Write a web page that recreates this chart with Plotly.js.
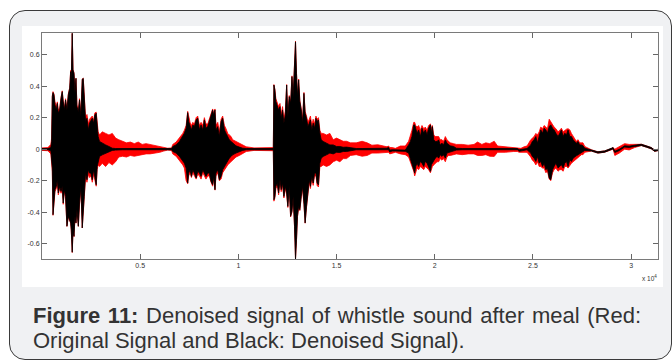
<!DOCTYPE html>
<html>
<head>
<meta charset="utf-8">
<script src="https://cdn.plot.ly/plotly-3.0.1.min.js"></script>
<style>
  html, body { margin:0; padding:0; background:#ffffff; width:672px; height:361px; overflow:hidden; }
  #box { position:absolute; left:9px; top:10px; width:661px; height:348px; border:1.5px solid #3a3a3a;
         border-radius:16px; background:#f0f1f3; }
  #panel { position:absolute; left:22px; top:26px; width:641px; height:261px; background:#ffffff; }
  #chart { position:absolute; left:0; top:0; width:672px; height:361px; }
  .cap { position:absolute; left:33px; width:608px; font-family:"Liberation Sans", Arial, sans-serif;
         font-size:22px; color:#333333; white-space:nowrap; line-height:25px; }
  #cap1 { top:303px; text-align:justify; text-align-last:justify; }
  #cap2 { top:328px; }
</style>
</head>
<body>
<div id="box"></div>
<div id="panel"></div>
<div class="cap" id="cap1"><b>Figure 11:</b> Denoised signal of whistle sound after meal (Red:</div>
<div class="cap" id="cap2">Original Signal and Black: Denoised Signal).</div>
<div id="chart"></div>
<script>
// time axis (x 10^4 samples)
var t = [
0,0.03,0.045,
0.049,0.0525,0.056,0.061,0.066,0.073,0.078,0.083,0.09,0.097,
0.103,0.108,0.114,0.12,0.127,0.134,0.141,0.146,0.149,0.154,
0.158,0.163,0.168,0.173,0.178,0.185,0.191,0.198,0.205,0.21,
0.215,0.222,0.229,0.236,0.242,0.249,0.256,0.263,0.269,0.276,
0.281,0.286,0.293,0.307,0.324,0.341,0.358,0.375,0.391,
0.41,0.43,0.45,0.47,0.49,0.51,0.53,0.55,0.58,0.6,0.62,0.64,0.66,
0.666,0.683,0.7,0.717,0.725,0.734,0.742,0.747,0.754,0.761,
0.768,0.776,0.785,0.793,0.802,0.81,0.819,0.827,0.835,0.844,
0.852,0.861,0.869,0.874,0.881,0.886,0.895,0.903,0.912,0.92,
0.929,0.937,0.946,0.954,0.963,0.971,0.988,1.005,1.022,1.04,
1.08,1.12,1.178,
1.181,1.186,1.191,1.198,1.205,1.212,1.218,1.225,1.232,1.239,
1.246,1.252,1.259,1.266,1.273,1.279,1.286,1.291,1.296,1.301,
1.307,1.313,1.32,1.327,1.334,1.34,1.347,1.354,1.361,1.367,
1.374,1.381,1.388,1.395,1.401,1.408,1.415,1.422,1.432,1.449,
1.466,1.483,1.5,1.517,1.534,1.551,1.571,
1.6,1.63,1.656,1.68,1.71,1.74,1.757,1.765,1.771,1.783,1.8,1.825,1.85,
1.867,1.876,1.884,1.893,1.898,1.903,1.91,1.918,1.927,1.935,
1.944,1.952,1.961,1.969,1.978,1.983,1.988,1.995,2.003,2.012,
2.02,2.028,2.037,2.045,2.054,2.062,2.071,2.079,2.096,2.11,
2.14,2.17,2.2,2.218,2.24,2.26,2.28,2.303,2.32,2.36,2.4,
2.421,2.43,2.439,2.455,2.47,
2.489,2.497,2.506,2.515,2.523,2.532,2.54,2.549,2.557,2.566,
2.574,2.583,2.591,2.6,2.608,2.617,2.628,2.637,2.645,2.654,
2.662,2.671,2.679,2.688,2.696,2.705,2.713,2.721,2.73,2.738,
2.747,2.755,2.764,
2.798,2.831,2.866,2.9,2.908,2.917,2.94,2.967,2.99,3.018,3.052,3.077,3.103,3.12,3.137
];
// original signal (red): upper and lower peak envelope
var originalHigh = [
0.008,0.01,0.03,
0.07,0.34,0.365,0.35,0.3,0.27,0.3,0.25,0.26,0.33,
0.37,0.31,0.26,0.32,0.26,0.35,0.39,0.5,0.44,0.735,
0.505,0.485,0.36,0.45,0.28,0.25,0.32,0.23,0.445,0.45,
0.34,0.2,0.22,0.16,0.19,0.2,0.21,0.18,0.23,0.235,
0.14,0.11,0.09,0.11,0.1,0.09,0.1,0.07,0.06,
0.05,0.04,0.045,0.035,0.045,0.03,0.035,0.03,0.025,0.02,0.012,0.006,0.008,
0.03,0.045,0.07,0.1,0.12,0.15,0.24,0.2,0.17,0.15,
0.17,0.16,0.2,0.21,0.15,0.17,0.15,0.2,0.16,0.16,
0.19,0.22,0.255,0.23,0.255,0.15,0.17,0.11,0.19,0.21,
0.15,0.13,0.1,0.09,0.08,0.06,0.05,0.04,0.03,0.015,
0.008,0.008,0.01,
0.41,0.38,0.32,0.3,0.27,0.29,0.22,0.27,0.19,0.24,
0.41,0.23,0.34,0.3,0.465,0.34,0.55,0.685,0.485,0.34,
0.445,0.31,0.26,0.19,0.36,0.24,0.21,0.17,0.19,0.21,
0.15,0.19,0.16,0.21,0.19,0.2,0.12,0.1,0.1,0.09,
0.1,0.06,0.07,0.06,0.05,0.05,0.04,
0.04,0.05,0.04,0.025,0.028,0.02,0.015,0.02,0.01,0.01,0.005,0.02,0.02,
0.05,0.08,0.12,0.17,0.17,0.15,0.14,0.15,0.12,0.15,
0.13,0.14,0.12,0.15,0.16,0.13,0.15,0.09,0.08,0.08,
0.08,0.06,0.06,0.05,0.08,0.06,0.05,0.04,0.035,0.03,
0.03,0.025,0.03,0.045,0.03,0.04,0.035,0.05,0.02,0.015,0.012,
0.01,0.005,0.005,0.015,0.02,
0.06,0.07,0.08,0.1,0.09,0.11,0.14,0.13,0.15,0.14,
0.13,0.19,0.175,0.15,0.14,0.13,0.11,0.12,0.133,0.11,
0.12,0.127,0.13,0.122,0.1,0.08,0.07,0.05,0.06,0.04,
0.04,0.04,0.017,
-0.004,-0.017,-0.011,0.004,0.01,0,0.015,0.035,0.03,0.03,0.031,0.021,0.01,-0.006,-0.001
];
var originalLow = [
-0.008,-0.01,-0.03,
-0.07,-0.14,-0.42,-0.31,-0.27,-0.25,-0.22,-0.29,-0.25,-0.28,
-0.25,-0.35,-0.27,-0.31,-0.49,-0.43,-0.45,-0.47,-0.515,-0.656,
-0.515,-0.555,-0.43,-0.47,-0.39,-0.49,-0.35,-0.25,-0.5,-0.43,
-0.31,-0.18,-0.21,-0.16,-0.18,-0.17,-0.21,-0.16,-0.19,-0.235,
-0.13,-0.1,-0.11,-0.09,-0.11,-0.085,-0.1,-0.08,-0.05,
-0.045,-0.05,-0.04,-0.045,-0.04,-0.035,-0.03,-0.03,-0.025,-0.02,-0.012,-0.006,-0.008,
-0.03,-0.045,-0.07,-0.1,-0.12,-0.2,-0.22,-0.17,-0.15,-0.18,
-0.15,-0.17,-0.19,-0.16,-0.17,-0.19,-0.15,-0.17,-0.19,-0.17,
-0.17,-0.21,-0.235,-0.19,-0.26,-0.17,-0.15,-0.2,-0.19,-0.15,
-0.13,-0.12,-0.1,-0.09,-0.08,-0.07,-0.05,-0.04,-0.03,-0.015,
-0.008,-0.008,-0.01,
-0.33,-0.31,-0.25,-0.23,-0.29,-0.21,-0.27,-0.23,-0.31,-0.25,
-0.29,-0.37,-0.25,-0.43,-0.4,-0.31,-0.49,-0.697,-0.58,-0.43,
-0.37,-0.39,-0.31,-0.25,-0.35,-0.47,-0.37,-0.27,-0.21,-0.25,
-0.19,-0.23,-0.17,-0.17,-0.23,-0.24,-0.11,-0.11,-0.1,-0.11,
-0.1,-0.08,-0.07,-0.08,-0.06,-0.06,-0.04,
-0.035,-0.045,-0.04,-0.025,-0.025,-0.02,-0.02,-0.02,-0.03,-0.025,-0.02,-0.03,-0.035,
-0.05,-0.08,-0.12,-0.14,-0.17,-0.14,-0.12,-0.13,-0.11,-0.12,
-0.13,-0.11,-0.12,-0.13,-0.15,-0.12,-0.11,-0.1,-0.09,-0.08,
-0.08,-0.06,-0.07,-0.06,-0.08,-0.05,-0.04,-0.04,-0.035,-0.03,
-0.035,-0.03,-0.03,-0.04,-0.04,-0.035,-0.045,-0.046,-0.02,-0.02,-0.015,
-0.015,-0.02,-0.02,-0.02,-0.02,
-0.05,-0.07,-0.08,-0.1,-0.08,-0.11,-0.11,-0.12,-0.12,-0.15,
-0.14,-0.19,-0.2,-0.15,-0.13,-0.12,-0.14,-0.13,-0.13,-0.14,
-0.11,-0.11,-0.12,-0.1,-0.09,-0.08,-0.07,-0.06,-0.05,-0.045,
-0.035,-0.035,-0.02,
-0.012,-0.025,-0.019,-0.004,0.002,-0.04,-0.025,0,-0.005,0.01,0.023,0.013,0.002,-0.014,-0.009
];
// denoised signal (black): upper and lower peak envelope
var denoisedHigh = [
0.004,0.004,0.01,
0.05,0.333,0.359,0.344,0.281,0.249,0.291,0.228,0.249,0.323,
0.365,0.302,0.249,0.312,0.249,0.344,0.386,0.492,0.439,0.735,
0.502,0.481,0.354,0.449,0.27,0.238,0.312,0.207,0.443,0.449,
0.333,0.175,0.196,0.122,0.165,0.186,0.196,0.165,0.217,0.228,
0.122,0.08,0.049,0.038,0.027,0.017,0.006,0.004,0.004,
0.004,0.004,0.004,0.004,0.004,0.004,0.004,0.004,0.004,0.004,0.004,0.004,0.004,
0.017,0.027,0.049,0.08,0.101,0.133,0.232,0.175,0.143,0.122,
0.154,0.143,0.186,0.196,0.122,0.154,0.122,0.186,0.133,0.143,
0.175,0.207,0.249,0.217,0.249,0.122,0.143,0.08,0.175,0.196,
0.122,0.101,0.08,0.059,0.049,0.038,0.021,0.013,0.006,0.004,
0.004,0.004,0.004,
0.407,0.375,0.302,0.281,0.249,0.27,0.196,0.249,0.165,0.217,
0.407,0.207,0.333,0.291,0.46,0.333,0.544,0.681,0.481,0.333,
0.439,0.302,0.249,0.165,0.354,0.228,0.196,0.143,0.165,0.186,
0.122,0.165,0.133,0.196,0.175,0.186,0.101,0.059,0.049,0.038,
0.027,0.027,0.017,0.017,0.012,0.013,0.008,
0.004,0.004,0.004,0.004,0.004,0.004,0.006,0.012,-0.006,-0.004,-0.004,-0.006,-0.006,
0.027,0.049,0.08,0.154,0.154,0.122,0.101,0.122,0.08,0.133,
0.101,0.122,0.091,0.133,0.154,0.101,0.143,0.059,0.049,0.049,
0.059,0.027,0.038,0.027,0.059,0.038,0.027,0.021,0.017,0.006,
0.004,0.004,0.004,0.004,0.004,0.004,0.004,0.004,0.004,0.004,0.004,
0.004,-0.004,-0.002,0.002,0.004,
0.027,0.049,0.059,0.08,0.038,0.08,0.122,0.101,0.133,0.122,
0.101,0.143,0.154,0.133,0.122,0.101,0.08,0.101,0.122,0.08,
0.101,0.091,0.122,0.08,0.08,0.059,0.049,0.038,0.049,0.027,
0.027,0.021,0.006,
-0.004,-0.017,-0.011,0.004,0.01,-0.013,-0.001,0.021,0.019,0.025,0.031,0.021,0.01,-0.006,-0.001
];
var denoisedLow = [
-0.004,-0.004,-0.01,
-0.05,-0.12,-0.416,-0.3,-0.257,-0.236,-0.194,-0.278,-0.236,-0.268,
-0.236,-0.342,-0.257,-0.3,-0.489,-0.426,-0.447,-0.468,-0.511,-0.654,
-0.511,-0.553,-0.426,-0.468,-0.384,-0.489,-0.342,-0.236,-0.5,-0.426,
-0.3,-0.152,-0.194,-0.131,-0.152,-0.152,-0.194,-0.131,-0.173,-0.226,
-0.11,-0.078,-0.046,-0.036,-0.025,-0.015,-0.008,-0.006,-0.004,
-0.004,-0.004,-0.004,-0.004,-0.004,-0.004,-0.004,-0.004,-0.004,-0.004,-0.004,-0.004,-0.004,
-0.015,-0.025,-0.046,-0.078,-0.089,-0.12,-0.215,-0.152,-0.131,-0.173,
-0.131,-0.152,-0.183,-0.141,-0.152,-0.173,-0.131,-0.152,-0.173,-0.152,
-0.152,-0.205,-0.226,-0.173,-0.257,-0.152,-0.131,-0.194,-0.173,-0.131,
-0.11,-0.089,-0.078,-0.057,-0.046,-0.036,-0.025,-0.015,-0.008,-0.004,
-0.004,-0.004,-0.004,
-0.321,-0.3,-0.236,-0.215,-0.278,-0.194,-0.257,-0.215,-0.3,-0.236,
-0.278,-0.363,-0.236,-0.426,-0.394,-0.3,-0.489,-0.697,-0.574,-0.426,
-0.363,-0.384,-0.3,-0.236,-0.342,-0.468,-0.363,-0.257,-0.194,-0.236,
-0.173,-0.215,-0.152,-0.152,-0.215,-0.226,-0.089,-0.057,-0.046,-0.036,
-0.025,-0.03,-0.02,-0.021,-0.015,-0.015,-0.01,
-0.004,-0.004,-0.004,-0.004,-0.004,-0.004,-0.002,-0.004,-0.018,-0.012,-0.012,-0.014,-0.014,
-0.025,-0.057,-0.089,-0.131,-0.152,-0.11,-0.089,-0.11,-0.078,-0.089,
-0.11,-0.078,-0.089,-0.11,-0.141,-0.099,-0.089,-0.068,-0.057,-0.046,
-0.057,-0.036,-0.046,-0.036,-0.057,-0.025,-0.021,-0.015,-0.011,-0.006,
-0.004,-0.004,-0.004,-0.004,-0.004,-0.004,-0.004,-0.004,-0.004,-0.004,-0.004,
-0.004,-0.014,-0.012,-0.006,-0.004,
-0.025,-0.046,-0.057,-0.078,-0.046,-0.089,-0.078,-0.11,-0.089,-0.131,
-0.12,-0.184,-0.194,-0.131,-0.11,-0.089,-0.12,-0.11,-0.099,-0.12,
-0.089,-0.078,-0.11,-0.068,-0.078,-0.057,-0.046,-0.042,-0.036,-0.03,
-0.021,-0.017,-0.008,
-0.012,-0.025,-0.019,-0.004,0.002,-0.021,-0.009,0.013,0.011,0.017,0.023,0.013,0.002,-0.014,-0.009
];
var xTickVals = [0.5, 1, 1.5, 2, 2.5, 3];
var xTickText = ["0.5", "1", "1.5", "2", "2.5", "3"];
var yTickVals = [-0.6, -0.4, -0.2, 0, 0.2, 0.4, 0.6];
var yTickText = ["-0.6", "-0.4", "-0.2", "0", "0.2", "0.4", "0.6"];

function env(y, color, fill) {
  var tr = { x: t, y: y, type: "scatter", mode: "lines", hoverinfo: "skip", showlegend: false,
             line: { color: color, width: 0.8 } };
  if (fill) { tr.fill = "tonexty"; tr.fillcolor = color; }
  return tr;
}
var data = [
  env(originalLow, "#ff0000", false),
  env(originalHigh, "#ff0000", true),
  env(denoisedLow, "#000000", false),
  env(denoisedHigh, "#000000", true)
];
var axisCommon = {
  ticks: "inside", ticklen: 5, tickwidth: 1, tickcolor: "#666666",
  showline: true, linecolor: "#7a7a7a", linewidth: 1, mirror: "ticks",
  showgrid: false, zeroline: false,
  tickfont: { family: "Liberation Sans, Arial, sans-serif", size: 7, color: "#333333" }
};
var layout = {
  width: 672, height: 361,
  margin: { l: 42, r: 14, t: 33, b: 102 },
  paper_bgcolor: "rgba(0,0,0,0)", plot_bgcolor: "#ffffff",
  showlegend: false,
  xaxis: Object.assign({}, axisCommon, { range: [0, 3.137], tickmode: "array", tickvals: xTickVals, ticktext: xTickText }),
  yaxis: Object.assign({}, axisCommon, { range: [-0.697, 0.737], tickmode: "array", tickvals: yTickVals, ticktext: yTickText }),
  annotations: [{
    xref: "paper", yref: "paper", x: 0.987, y: -0.056, xanchor: "center", yanchor: "top", showarrow: false,
    text: "x 10<sup>4</sup>", font: { family: "Liberation Sans, Arial, sans-serif", size: 6.5, color: "#333333" }
  }]
};
Plotly.newPlot("chart", data, layout, { staticPlot: true, displayModeBar: false });
</script>
</body>
</html>
